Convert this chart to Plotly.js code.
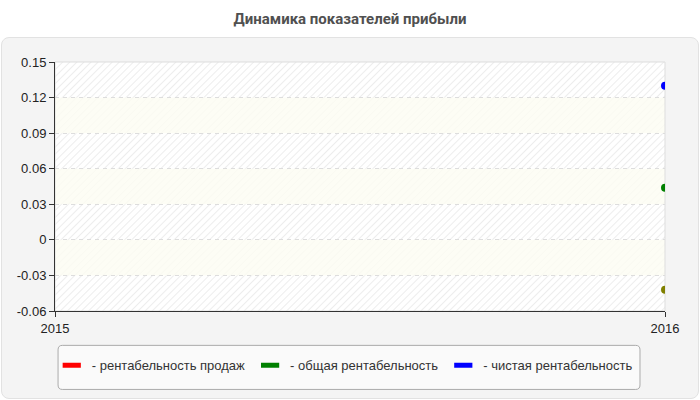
<!DOCTYPE html>
<html>
<head>
<meta charset="utf-8">
<script src="https://cdn.plot.ly/plotly-3.0.1.min.js"></script>
<style>
  body { margin: 0; background: #fff; }
  #wrap { position: relative; width: 700px; height: 400px; }
  #box { position: absolute; left: 1px; top: 37px; width: 696px; height: 360px;
         background: #f4f4f4; border: 1px solid #e2e2e2; border-radius: 8px; }
  #chart { position: absolute; left: 0; top: 0; width: 700px; height: 400px; }
</style>
</head>
<body>
<div id="wrap">
  <div id="box"></div>
  <div id="chart"></div>
</div>
<script>
// years on the x axis
var years = [2015, 2016];
// series values (2015 has no data)
var salesReturn = [null, -0.042];
var totalReturn = [null, 0.044];
var netReturn = [null, 0.13];
var seriesNames = ["- рентабельность продаж", "- общая рентабельность", "- чистая рентабельность"];
var seriesColors = ["#ff0000", "#008000", "#0000ff"];
var yTicks = [-0.06, -0.03, 0, 0.03, 0.06, 0.09, 0.12, 0.15];
var yTickLabels = ["-0.06", "-0.03", "0", "0.03", "0.06", "0.09", "0.12", "0.15"];

// hatched background for the plot area
var hatch = '<svg xmlns="http://www.w3.org/2000/svg" width="610" height="250">' +
  '<defs><pattern id="h" width="5" height="5" patternUnits="userSpaceOnUse" patternTransform="rotate(45)">' +
  '<line x1="0" y1="0" x2="0" y2="5" stroke="#e9e9e9" stroke-width="1.6"/></pattern></defs>' +
  '<rect width="610" height="250" fill="#ffffff"/><rect width="610" height="250" fill="url(#h)"/></svg>';

// yellowish bands between every other pair of gridlines
var shapes = [];
for (var i = 1; i < yTicks.length - 1; i += 2) {
  shapes.push({
    type: "rect", xref: "paper", yref: "y", x0: 0, x1: 1,
    y0: yTicks[i], y1: yTicks[i + 1], layer: "below",
    fillcolor: "rgba(253,253,242,0.8)", line: {width: 0}
  });
}
shapes.push({type: "rect", xref: "paper", yref: "paper", x0: 0, x1: 1, y0: 0, y1: 1,
  layer: "below", line: {color: "#dddddd", width: 1}});

// rounded frame behind the legend
function roundBox(x0, y0, x1, y1, rx, ry) {
  return "M" + (x0 + rx) + "," + y1 + " L" + (x1 - rx) + "," + y1 +
    " Q" + x1 + "," + y1 + " " + x1 + "," + (y1 - ry) +
    " L" + x1 + "," + (y0 + ry) + " Q" + x1 + "," + y0 + " " + (x1 - rx) + "," + y0 +
    " L" + (x0 + rx) + "," + y0 + " Q" + x0 + "," + y0 + " " + x0 + "," + (y0 + ry) +
    " L" + x0 + "," + (y1 - ry) + " Q" + x0 + "," + y1 + " " + (x0 + rx) + "," + y1 + " Z";
}
shapes.push({type: "path", xref: "paper", yref: "paper", layer: "below",
  path: roundBox(0.005, -0.315, 0.959, -0.138, 0.007, 0.018),
  fillcolor: "#fafafa", line: {color: "#aaaaaa", width: 1}});

var pointColors = ["#808000", seriesColors[1], seriesColors[2]];
var allValues = [salesReturn, totalReturn, netReturn];
var data = [];
allValues.forEach(function (vals, k) {
  data.push({
    x: years, y: vals, type: "scatter", mode: "markers",
    marker: {color: pointColors[k], size: 8}, showlegend: false, hoverinfo: "x+y"
  });
});
// legend entries
seriesNames.forEach(function (nm, k) {
  data.push({
    x: [null], y: [null], type: "scatter", mode: "markers", name: nm,
    marker: {color: seriesColors[k], symbol: "line-ew", size: 13,
             line: {color: seriesColors[k], width: 5}}
  });
});

var layout = {
  width: 700, height: 400,
  paper_bgcolor: "rgba(0,0,0,0)",
  plot_bgcolor: "rgba(0,0,0,0)",
  margin: {l: 55, r: 35, t: 62, b: 89},
  font: {family: "Liberation Sans, Arial, sans-serif", size: 13, color: "#222"},
  title: {text: "<b>Динамика показателей прибыли</b>", x: 0.5, y: 0.952, yanchor: "middle",
          font: {family: "Roboto, sans-serif", size: 15, color: "#505050"}},
  xaxis: {
    range: [2015, 2016], tickvals: years, ticktext: years.map(String),
    showgrid: false, zeroline: false, showline: true, linecolor: "#333", linewidth: 1,
    ticks: "outside", ticklen: 5, tickcolor: "#333", tickfont: {size: 13, color: "#222"}
  },
  yaxis: {
    range: [-0.06, 0.15], tickvals: yTicks, ticktext: yTickLabels,
    showgrid: true, gridcolor: "#dddddd", griddash: "4px,4px", zeroline: false,
    showline: true, linecolor: "#333", linewidth: 1,
    ticks: "outside", ticklen: 5, tickcolor: "#333", tickfont: {size: 13, color: "#222"}
  },
  images: [{
    source: "data:image/svg+xml;charset=utf-8," + encodeURIComponent(hatch),
    xref: "paper", yref: "paper", x: 0, y: 1, sizex: 1, sizey: 1,
    sizing: "stretch", layer: "below"
  }],
  shapes: shapes,
  legend: {
    orientation: "h", x: 0.475, xanchor: "center", y: -0.218, yanchor: "middle",
    bgcolor: "rgba(0,0,0,0)", borderwidth: 0,
    font: {size: 13, color: "#333"}, itemwidth: 30
  }
};

Plotly.newPlot("chart", data, layout, {displayModeBar: false, staticPlot: true});
</script>
</body>
</html>
